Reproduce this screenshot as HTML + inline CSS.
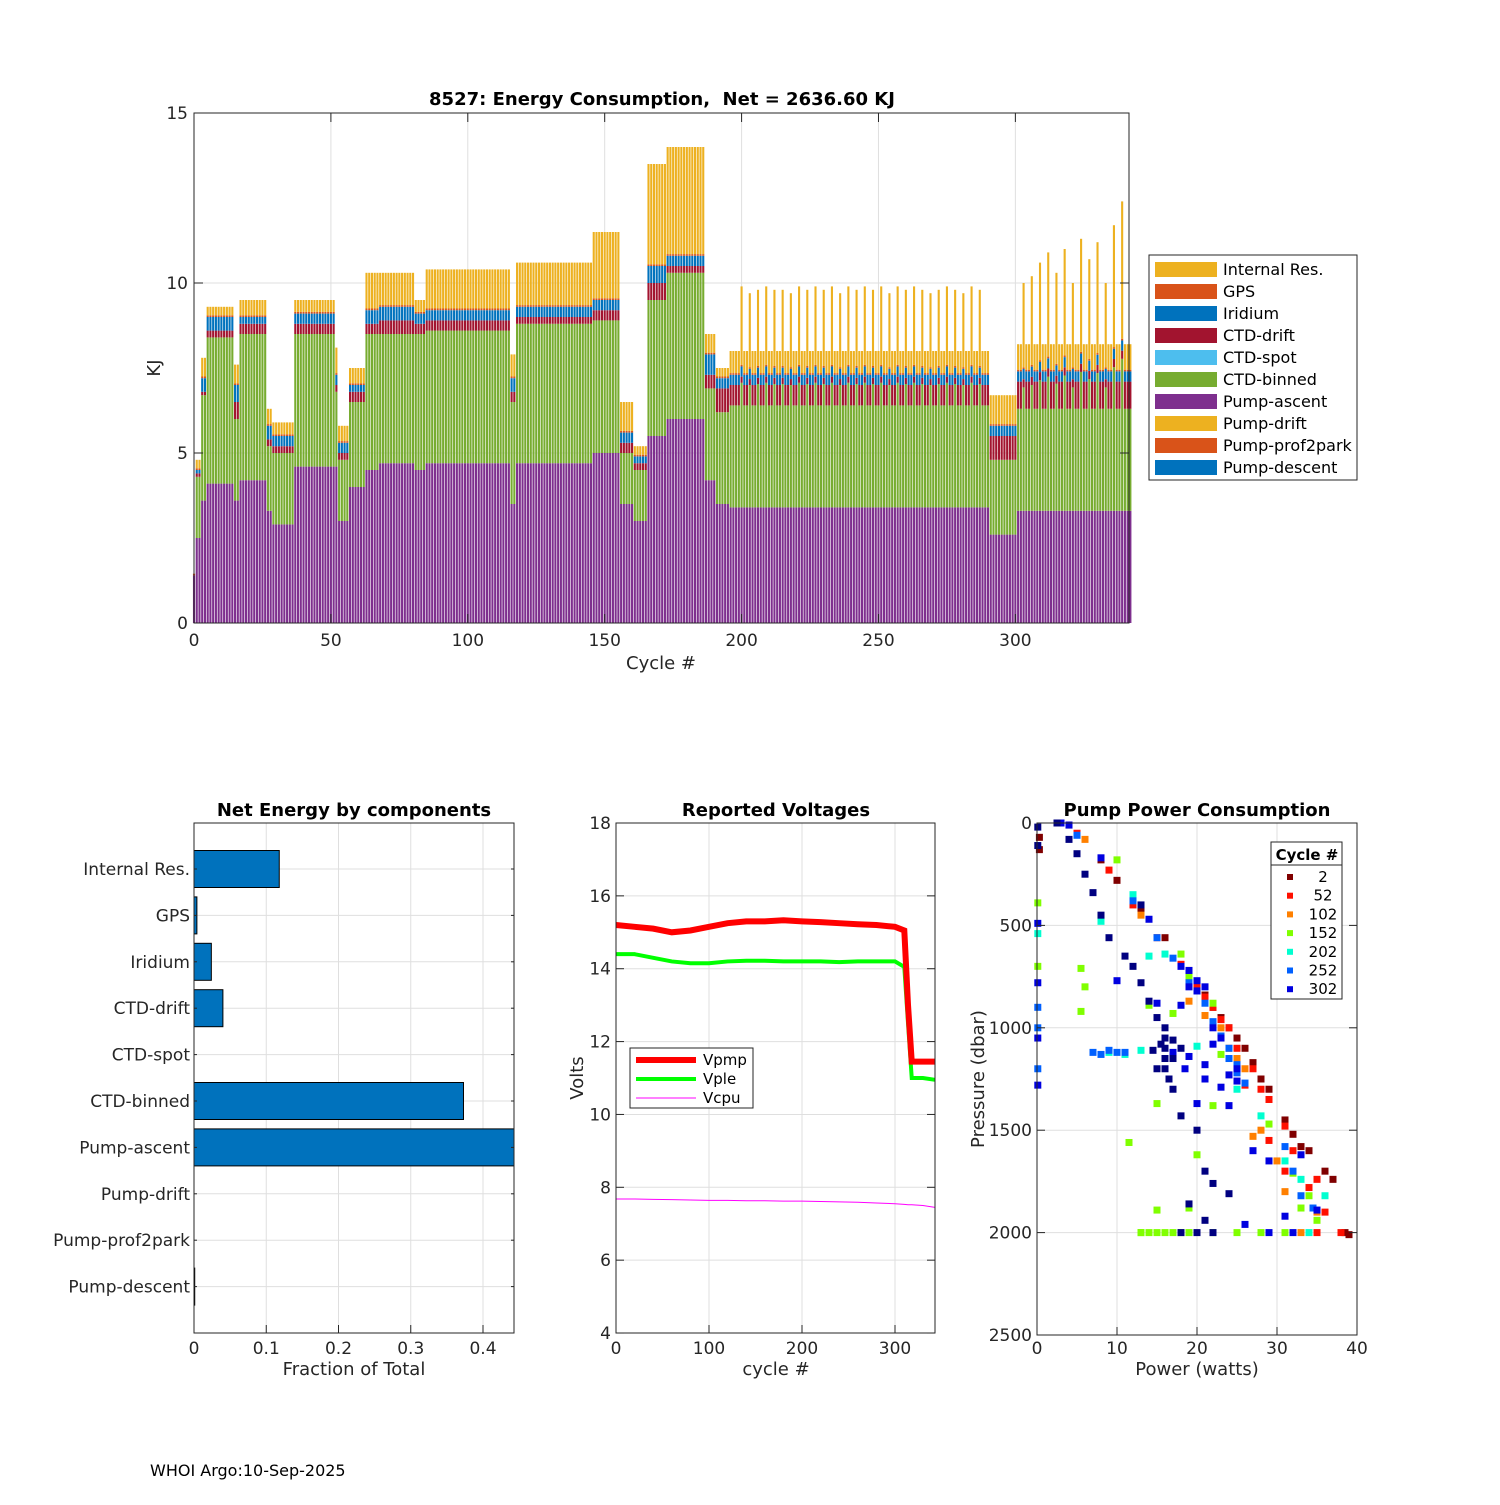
<!DOCTYPE html>
<html><head><meta charset="utf-8"><style>
body{margin:0;background:#fff;}
svg{font-family:"DejaVu Sans","Liberation Sans",sans-serif;}
text{white-space:pre;}
</style></head><body>
<svg id="s" width="1500" height="1500" viewBox="0 0 1500 1500" xmlns="http://www.w3.org/2000/svg"></svg>
<script>
// ---------- Top chart data (segments of cycles) ----------
const segStart=[0,1,3,5,15,17,27,29,37,52,53,57,63,68,81,85,116,118,146,156,161,166,173,187,191,196,291,301];
const segEnd  =[0,2,4,14,16,26,28,36,51,52,56,62,67,80,84,115,117,145,155,160,165,172,186,190,195,290,300,342];
const pumpAscent=[1.4,2.5,3.6,4.1,3.6,4.2,3.3,2.9,4.6,4.6,3.0,4.0,4.5,4.7,4.5,4.7,3.5,4.7,5.0,3.5,3.0,5.5,6.0,4.2,3.5,3.4,2.6,3.3];
const ctdBinned=[0,1.8,3.1,4.3,2.4,4.3,1.9,2.1,3.9,2.2,1.8,2.5,4.0,3.8,4.0,3.9,3.0,4.1,3.9,1.5,1.5,4.0,4.3,2.7,2.7,3.0,2.2,3.0];
const ctdDrift=[0,0.1,0.1,0.2,0.5,0.3,0.2,0.2,0.3,0.2,0.2,0.3,0.3,0.4,0.3,0.3,0.3,0.2,0.3,0.3,0.2,0.5,0.2,0.4,0.7,0.6,0.7,0.8];
const iridium=[0,0.1,0.4,0.4,0.5,0.2,0.4,0.3,0.3,0.3,0.3,0.2,0.4,0.4,0.3,0.3,0.4,0.3,0.3,0.3,0.2,0.5,0.3,0.6,0.3,0.3,0.3,0.3];
const internalRes=[0,0.3,0.6,0.3,0.6,0.5,0.5,0.4,0.4,0.8,0.5,0.5,1.1,1.0,0.4,1.2,0.7,1.3,2.0,0.9,0.3,3.0,3.2,0.6,0.3,0.7,0.9,0.8];
const spikeCycles=[200,203,206,209,212,215,218,221,224,227,230,233,236,239,242,245,248,251,254,257,260,263,266,269,272,275,278,281,284,287,303,306,309,312,315,318,321,324,327,330,333,336,339];
const spikeTop=[9.9,9.7,9.8,9.9,9.8,9.8,9.7,9.9,9.8,9.9,9.8,9.9,9.7,9.9,9.8,9.9,9.8,9.9,9.7,9.9,9.8,9.9,9.8,9.7,9.8,9.9,9.8,9.7,9.9,9.8,10.0,10.2,10.6,10.9,10.3,11.0,10.0,11.3,10.7,11.2,10.0,11.7,12.4];
const legendNames=["Internal Res.","GPS","Iridium","CTD-drift","CTD-spot","CTD-binned","Pump-ascent","Pump-drift","Pump-prof2park","Pump-descent"];
const legendColors=["#EDB120","#D95319","#0072BD","#A2142F","#4DBEEE","#77AC30","#7E2F8E","#EDB120","#D95319","#0072BD"];
// ---------- Component bars ----------
const compNames=["Internal Res.","GPS","Iridium","CTD-drift","CTD-spot","CTD-binned","Pump-ascent","Pump-drift","Pump-prof2park","Pump-descent"];
const compFrac=[0.118,0.004,0.024,0.040,0,0.373,0.47,0,0,0.001];
// ---------- Voltages ----------
const vCycle=[0,20,40,60,80,100,120,140,160,180,200,220,240,260,280,300,310,314,318,330,343];
const vPmp=[15.2,15.15,15.1,15.0,15.05,15.15,15.25,15.3,15.3,15.33,15.3,15.28,15.25,15.22,15.2,15.15,15.05,13.0,11.45,11.45,11.45];
const vPle=[14.4,14.4,14.3,14.2,14.15,14.15,14.2,14.22,14.22,14.2,14.2,14.2,14.18,14.2,14.2,14.2,14.05,12.5,11.0,11.0,10.95];
const vCpu=[7.68,7.68,7.67,7.66,7.65,7.64,7.64,7.63,7.63,7.62,7.62,7.61,7.6,7.59,7.57,7.55,7.53,7.52,7.52,7.5,7.45];
// ---------- Pump scatter ----------
const scLabels=["2","52","102","152","202","252","302"];
const scColors=["#800000","#ff1000","#ff8000","#80ff00","#00ffd0","#0060ff","#0000e0","#000080"];
const pts2=[[0.3,70],[0.3,130],[4,10],[8,180],[10,280],[13,420],[16,560],[19,720],[21,840],[23,950],[25,1050],[27,1170],[29,1300],[31,1450],[33,1580],[34,1600],[36,1700],[37,1740],[38.5,2000],[39,2010],[24,1000],[26,1100],[22,900],[28,1250],[32,1520]];
const pts52=[[5,50],[9,230],[12,400],[15,560],[18,690],[20,800],[22,900],[24,1000],[25,1100],[27,1200],[29,1350],[31,1480],[32,1600],[35,1740],[34,1780],[36,1900],[38,2000],[29,1550],[31,1700],[26,1280],[35,2000],[23,960],[21,850],[28,1300]];
const pts102=[[6,80],[13,450],[19,870],[21,940],[23,1000],[26,1200],[28,1500],[31,1800],[27,1530],[30,1650],[33,2000],[35,1900],[24,1100],[25,1150]];
const pts152=[[0.1,390],[0.1,700],[5.5,710],[5.5,920],[6,800],[18,640],[19,750],[22,880],[14,890],[17,930],[15,1370],[11.5,1560],[22,1380],[20,1620],[29,1470],[32,1710],[34,1820],[15,1890],[19,1880],[13,2000],[14,2000],[15,2000],[16,2000],[17,2000],[19,2000],[22,2000],[25,2000],[28,2000],[31,2000],[33,1880],[35,1940],[23,1130],[10,180],[13,2000],[18,2000]];
const pts202=[[0.1,540],[8,480],[12,350],[16,640],[9,1120],[11,1130],[13,1110],[20,1090],[33,1740],[36,1820],[28,1430],[31,1650],[34,2000],[25,1300],[14,650]];
const pts252=[[7,1120],[8,1130],[9,1110],[10,1120],[11,1120],[5,60],[12,380],[17,660],[20,820],[23,1040],[26,1270],[31,1580],[33,1820],[34.5,1880],[22,970],[24,1150],[25,1220],[0.1,900],[0.1,1000],[0.1,1200],[15,560],[19,780],[21,880],[24,1100],[25,1180],[32,1700]];
const pts302=[[0.1,490],[0.1,780],[0.1,1050],[0.1,1280],[3,0],[4,10],[8,170],[14,470],[18,700],[20,820],[22,1000],[25,1200],[19,800],[23,1050],[18.5,1200],[21,1250],[23,1290],[24,1380],[20,1370],[29,1650],[33,1620],[31,1920],[35,1890],[26,1960],[29,2000],[32,2000],[18,890],[19,720],[15,880],[17,1120],[19,1140],[21,1180],[10,770],[27,1600],[20,770],[21,800],[22,1080],[24,1230],[25,1260]];
const ptsLate=[[2.5,0],[4,80],[5,150],[6,250],[7,340],[8,450],[9,560],[11,650],[12,700],[13,780],[14,870],[15,950],[16,1050],[16,1100],[17,1150],[15,1200],[16.5,1250],[17,1300],[18,1100],[14.5,1110],[16,1000],[16,1150],[18,1430],[20,1500],[21,1700],[22,1760],[19,1860],[21,1940],[24,1810],[18,2000],[20,2000],[22,2000],[0.1,20],[0.1,110],[13,400],[15.5,1080],[17,1060],[16,1200]];

const S=document.getElementById('s');const NS="http://www.w3.org/2000/svg";
function el(t,a,p){const e=document.createElementNS(NS,t);for(const k in a)e.setAttribute(k,a[k]);(p||S).appendChild(e);return e;}
function txt(x,y,s,a,p){const e=el('text',Object.assign({x:x,y:y,'font-size':17,fill:'#262626'},a||{}),p);e.textContent=s;return e;}

// ===== Top chart =====
const tx=c=>194+c*(1129-194)/341.5, ty=v=>623-v*34;
let g=el('g',{});
[50,100,150,200,250,300].forEach(c=>el('line',{x1:tx(c),x2:tx(c),y1:113,y2:623,stroke:'#dfdfdf'},g));
[5,10].forEach(v=>el('line',{x1:194,x2:1129,y1:ty(v),y2:ty(v),stroke:'#dfdfdf'},g));
const bw=2.1;
function bar(c,lo,hi,col,name){if(hi<=lo)return;const r=el('rect',{x:tx(c)-bw/2,y:ty(hi),width:bw,height:ty(lo)-ty(hi),fill:col},g);}
for(let i=0;i<segStart.length;i++){for(let c=segStart[i];c<=segEnd[i];c++){
 let a=pumpAscent[i],b=a+ctdBinned[i],d=b+ctdDrift[i],ir=d+iridium[i],top=ir+internalRes[i];
 const k=spikeCycles.indexOf(c);
 if(k>=0){const extra=spikeTop[k]-top;b+=extra*0.35;d=b+ctdDrift[i]*0.3;ir=d+iridium[i];top=spikeTop[k];}
 bar(c,0,a,'#7E2F8E','bar-pump-ascent');bar(c,a,b,'#77AC30','bar-ctd-binned');bar(c,b,d,'#A2142F','bar-ctd-drift');
 bar(c,d,ir,'#0072BD','bar-iridium');bar(c,ir,ir+0.05,'#D95319','bar-gps');bar(c,ir+0.05,top,'#EDB120','bar-internal-res');}}
el('rect',{x:194,y:113,width:935,height:510,fill:'none',stroke:'#262626'},g);
[0,50,100,150,200,250,300].forEach(c=>{el('line',{x1:tx(c),x2:tx(c),y1:623,y2:614,stroke:'#262626'},g);el('line',{x1:tx(c),x2:tx(c),y1:113,y2:122,stroke:'#262626'},g);txt(tx(c),646,String(c),{'text-anchor':'middle'},g);});
[0,5,10,15].forEach(v=>{el('line',{x1:194,x2:203,y1:ty(v),y2:ty(v),stroke:'#262626'},g);el('line',{x1:1129,x2:1120,y1:ty(v),y2:ty(v),stroke:'#262626'},g);txt(188,ty(v)+6,String(v),{'text-anchor':'end'},g);});
txt(662,105,"8527: Energy Consumption,  Net = 2636.60 KJ",{'text-anchor':'middle','font-weight':'bold','font-size':18,fill:'#000'},g);
txt(661,669,"Cycle #",{'text-anchor':'middle','font-size':18},g);
txt(0,0,"KJ",{'text-anchor':'middle','font-size':18,transform:'translate(160,368) rotate(-90)'},g);
let lg=el('g',{});
el('rect',{x:1149,y:255,width:208,height:225,fill:'#fff',stroke:'#262626'},lg);
legendNames.forEach((n,i)=>{const y=269+i*22;el('rect',{x:1155,y:y-7,width:62,height:15,fill:legendColors[i]},lg);txt(1223,y+6,n,{'font-size':16,fill:'#000'},lg);});

// ===== Component chart =====
const cx=v=>194+v*722.5, cy=i=>869+i*46.4;
let g2=el('g',{});
[0.1,0.2,0.3,0.4].forEach(v=>el('line',{x1:cx(v),x2:cx(v),y1:823,y2:1333,stroke:'#dfdfdf'},g2));
compNames.forEach((n,i)=>{el('line',{x1:194,x2:514,y1:cy(i),y2:cy(i),stroke:'#dfdfdf'},g2);});
compNames.forEach((n,i)=>{const w=Math.min(cx(compFrac[i]),514)-194;if(w>0){const r=el('rect',{x:194,y:cy(i)-18.5,width:w,height:37,fill:'#0072BD',stroke:'#000','stroke-width':1},g2);}
 txt(190,cy(i)+6,n,{'text-anchor':'end'},g2);el('line',{x1:194,x2:197,y1:cy(i),y2:cy(i),stroke:'#262626'},g2);el('line',{x1:514,x2:511,y1:cy(i),y2:cy(i),stroke:'#262626'},g2);});
el('rect',{x:194,y:823,width:320,height:510,fill:'none',stroke:'#262626'},g2);
[0,0.1,0.2,0.3,0.4].forEach(v=>{el('line',{x1:cx(v),x2:cx(v),y1:1333,y2:1325,stroke:'#262626'},g2);txt(cx(v),1354,String(v),{'text-anchor':'middle'},g2);});
txt(354,816,"Net Energy by components",{'text-anchor':'middle','font-weight':'bold','font-size':18,fill:'#000'},g2);
txt(354,1375,"Fraction of Total",{'text-anchor':'middle','font-size':18},g2);

// ===== Voltages =====
const vx=c=>616+c*0.93, vy=v=>823+(18-v)*36.43;
let g3=el('g',{});
[100,200,300].forEach(c=>el('line',{x1:vx(c),x2:vx(c),y1:823,y2:1333,stroke:'#dfdfdf'},g3));
[6,8,10,12,14,16].forEach(v=>el('line',{x1:616,x2:935,y1:vy(v),y2:vy(v),stroke:'#dfdfdf'},g3));
function vline(arr,col,w,name){const p=el('polyline',{points:vCycle.map((c,i)=>vx(c)+','+vy(arr[i])).join(' '),fill:'none',stroke:col,'stroke-width':w},g3);}
vline(vCpu,'#ff00ff',1,'vcpu-line');vline(vPle,'#00ff00',4,'vple-line');vline(vPmp,'#ff0000',6,'vpmp-line');
el('rect',{x:616,y:823,width:319,height:510,fill:'none',stroke:'#262626'},g3);
[0,100,200,300].forEach(c=>{el('line',{x1:vx(c),x2:vx(c),y1:1333,y2:1325,stroke:'#262626'},g3);txt(vx(c),1354,String(c),{'text-anchor':'middle'},g3);});
[4,6,8,10,12,14,16,18].forEach(v=>{el('line',{x1:616,x2:624,y1:vy(v),y2:vy(v),stroke:'#262626'},g3);el('line',{x1:935,x2:927,y1:vy(v),y2:vy(v),stroke:'#262626'},g3);txt(611,vy(v)+6,String(v),{'text-anchor':'end'},g3);});
txt(776,816,"Reported Voltages",{'text-anchor':'middle','font-weight':'bold','font-size':18,fill:'#000'},g3);
txt(776,1375,"cycle #",{'text-anchor':'middle','font-size':18},g3);
txt(0,0,"Volts",{'text-anchor':'middle','font-size':18,transform:'translate(583,1078) rotate(-90)'},g3);
let vl=el('g',{});
el('rect',{x:630,y:1048,width:123,height:60,fill:'#fff',stroke:'#262626'},vl);
[['Vpmp','#ff0000',6],['Vple','#00ff00',4],['Vcpu','#ff00ff',1]].forEach((d,i)=>{const y=1060+i*19;el('line',{x1:636,x2:696,y1:y,y2:y,stroke:d[1],'stroke-width':d[2]},vl);txt(703,y+5,d[0],{'font-size':15,fill:'#000'},vl);});

// ===== Pump scatter =====
const px=w=>1037+w*8, py=p=>823+p*0.2048;
let g4=el('g',{});
[10,20,30].forEach(w=>el('line',{x1:px(w),x2:px(w),y1:823,y2:1335,stroke:'#dfdfdf'},g4));
[500,1000,1500,2000].forEach(p=>el('line',{x1:1037,x2:1357,y1:py(p),y2:py(p),stroke:'#dfdfdf'},g4));
[pts2,pts52,pts102,pts152,pts202,pts252,pts302,ptsLate].forEach((arr,gi)=>{arr.forEach(q=>{const r=el('rect',{x:px(q[0])-3.5,y:py(q[1])-3.5,width:7,height:7,fill:scColors[gi]},g4);});});
el('rect',{x:1037,y:823,width:320,height:512,fill:'none',stroke:'#262626'},g4);
[0,10,20,30,40].forEach(w=>{el('line',{x1:px(w),x2:px(w),y1:1335,y2:1327,stroke:'#262626'},g4);txt(px(w),1354,String(w),{'text-anchor':'middle'},g4);});
[0,500,1000,1500,2000,2500].forEach(p=>{el('line',{x1:1037,x2:1045,y1:py(p),y2:py(p),stroke:'#262626'},g4);el('line',{x1:1357,x2:1349,y1:py(p),y2:py(p),stroke:'#262626'},g4);txt(1032,py(p)+6,String(p),{'text-anchor':'end'},g4);});
txt(1197,816,"Pump Power Consumption",{'text-anchor':'middle','font-weight':'bold','font-size':18,fill:'#000'},g4);
txt(1197,1375,"Power (watts)",{'text-anchor':'middle','font-size':18},g4);
txt(0,0,"Pressure (dbar)",{'text-anchor':'middle','font-size':18,transform:'translate(984,1079) rotate(-90)'},g4);
let sl=el('g',{});
el('rect',{x:1271,y:842,width:71,height:157,fill:'#fff',stroke:'#262626'},sl);
el('line',{x1:1271,x2:1342,y1:865,y2:865,stroke:'#262626'},sl);
txt(1307,860,"Cycle #",{'text-anchor':'middle','font-weight':'bold','font-size':15,fill:'#000'},sl);
scLabels.forEach((l,i)=>{const y=877+i*18.7;el('rect',{x:1287,y:y-3,width:6,height:6,fill:scColors[i]},sl);txt(1323,y+5,l,{'text-anchor':'middle','font-size':15,fill:'#000'},sl);});

txt(150,1476,"WHOI Argo:10-Sep-2025",{'font-size':16,fill:'#000'});
</script>
</body></html>
